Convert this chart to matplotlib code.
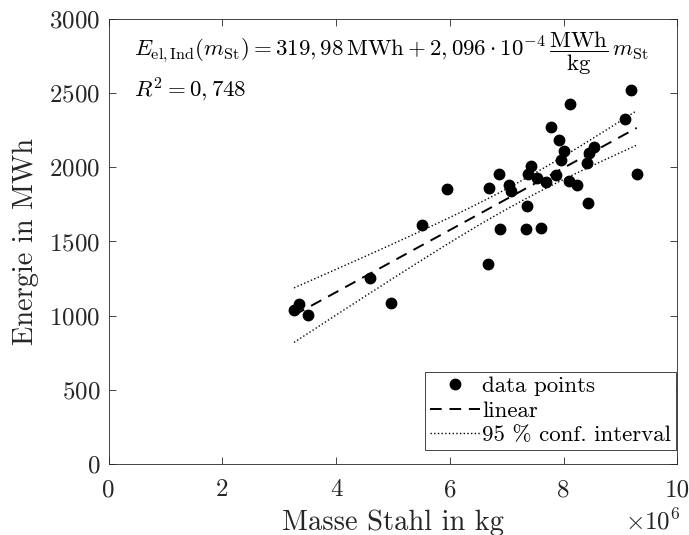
import numpy as np
import matplotlib
matplotlib.use("Agg")
import matplotlib.pyplot as plt
from matplotlib.ticker import FuncFormatter

plt.rcParams['font.family'] = 'serif'
plt.rcParams['font.serif'] = ['cmr10']
plt.rcParams['mathtext.fontset'] = 'cm'
plt.rcParams['axes.unicode_minus'] = False
plt.rcParams['axes.formatter.use_mathtext'] = True

# data: steel mass (kg) and energy (MWh)
mass_kg = np.array([3.353, 3.260, 3.511, 4.596, 4.965, 5.515, 5.954, 9.178, 8.111, 9.077,
                    7.777, 7.923, 8.005, 7.944, 8.538, 8.453, 8.409, 7.420, 6.863, 7.367,
                    7.526, 7.689, 7.865, 8.088, 8.228, 9.283, 6.682, 7.039, 7.074, 7.360,
                    8.422, 6.881, 7.343, 7.596, 6.675]) * 1e6
energy_mwh = np.array([1079, 1038, 1005, 1256, 1087, 1611, 1854, 2521, 2427, 2324,
                       2270, 2186, 2108, 2052, 2139, 2099, 2031, 2009, 1957, 1955,
                       1926, 1903, 1947, 1907, 1883, 1957, 1863, 1878, 1843, 1738,
                       1758, 1581, 1581, 1591, 1350])

intercept = 319.98
slope = 2.096e-4
t_975 = 2.035  # Student t, 33 dof

xl = np.linspace(mass_kg.min(), mass_kg.max(), 200)
yl = intercept + slope * xl
n = len(mass_kg)
res = energy_mwh - (intercept + slope * mass_kg)
s = np.sqrt(np.sum(res**2) / (n - 2))
xm = mass_kg.mean()
sxx = np.sum((mass_kg - xm)**2)
half = t_975 * s * np.sqrt(1.0 / n + (xl - xm)**2 / sxx)

ink = '#262626'
fig = plt.figure(figsize=(6.89, 5.35), dpi=100)
ax = fig.add_axes([0.1575, 0.1327, 0.8258, 0.8318])

ax.plot(mass_kg, energy_mwh, 'o', color='k', markersize=7.5, label='data points', zorder=3)
ax.plot(xl, yl, '--', color='k', lw=1.4, dashes=(6, 4), label='linear')
ax.plot(xl, yl + half, ':', color='k', lw=1.0, label='95 % conf. interval')
ax.plot(xl, yl - half, ':', color='k', lw=1.0)

ax.set_xlim(0, 10e6)
ax.set_ylim(0, 3000)
ax.set_xticks(np.arange(0, 10.1e6, 2e6))
ax.set_yticks(np.arange(0, 3001, 500))
ax.xaxis.set_major_formatter(FuncFormatter(lambda v, p: f"{v/1e6:g}"))
ax.tick_params(direction='in', top=True, right=True, length=5, width=0.6,
               labelsize=18, colors=ink)
ax.tick_params(axis='x', pad=11)
ax.tick_params(axis='y', pad=6)
for sp in ax.spines.values():
    sp.set_linewidth(0.6)
    sp.set_color(ink)

ax.set_xlabel('Masse Stahl in kg', fontsize=20.5, color=ink, labelpad=6)
ax.set_ylabel('Energie in MWh', fontsize=20.5, color=ink, labelpad=7)
fig.text(681 / 689, 1 - 522 / 535, r'$\times10^{6}$', ha='right', va='center',
         fontsize=18, color=ink)

ax.text(0.045, 0.917,
        r'$E_{\mathrm{el,Ind}}(m_{\mathrm{St}}) = 319,98\,\mathrm{MWh} + 2,096\cdot 10^{-4}\,\dfrac{\mathrm{MWh}}{\mathrm{kg}}\,m_{\mathrm{St}}$',
        transform=ax.transAxes, ha='left', va='baseline', fontsize=16.5)
ax.text(0.045, 0.824, r'$R^2 = 0,748$',
        transform=ax.transAxes, ha='left', va='baseline', fontsize=16.5)

leg = ax.legend(loc='lower right', bbox_to_anchor=(0.9974, 0.0315), fontsize=16.5,
                frameon=True, fancybox=False, edgecolor=ink, framealpha=1,
                handlelength=2.2, handletextpad=0.1, borderpad=0.2,
                labelspacing=0.2, borderaxespad=0)
leg.get_frame().set_linewidth(0.6)

fig.savefig('out.png', dpi=100)
